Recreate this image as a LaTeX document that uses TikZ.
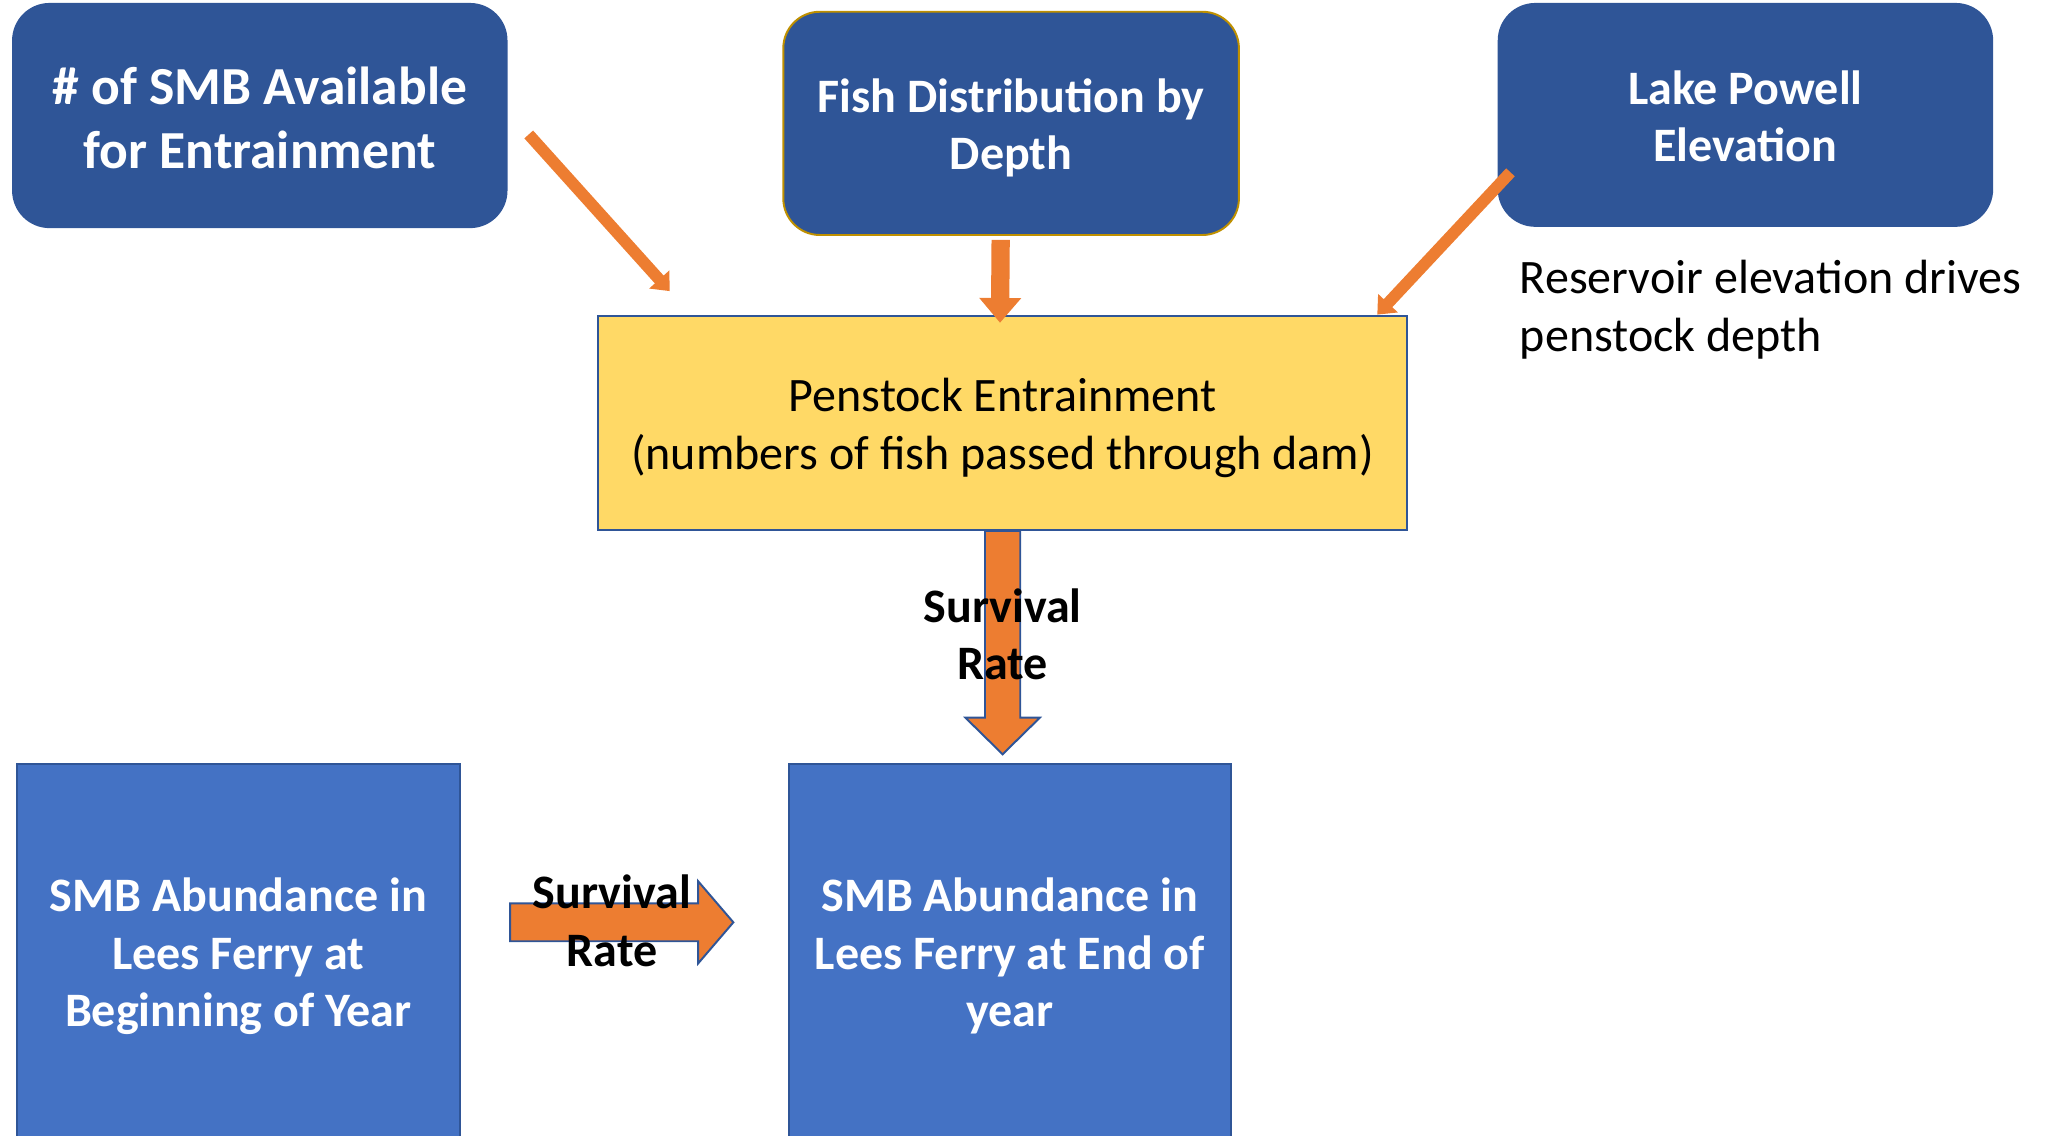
\documentclass[tikz,border=0pt]{standalone}
\usepackage{fontspec}
\setmainfont{Carlito}
\usetikzlibrary{arrows.meta,calc}
\definecolor{darkblue}{HTML}{2F5597}
\definecolor{midblue}{HTML}{4472C4}
\definecolor{goldline}{HTML}{BF9000}
\definecolor{sand}{HTML}{FFD966}
\definecolor{orng}{HTML}{ED7D31}
\begin{document}
\begin{tikzpicture}[x=1pt,y=-1pt,
  topbox/.style={draw=darkblue, fill=darkblue, line width=1.5pt, rounded corners=28pt, inner sep=0pt},
  penbox/.style={draw=darkblue, fill=sand, line width=1.5pt, inner sep=0pt},
  lowbox/.style={draw=darkblue, fill=midblue, line width=1.5pt, inner sep=0pt},
  whitetext/.style={text=white, align=center, inner sep=0pt, font={\fontsize{36.8}{44}\selectfont\bfseries}},
  bigfont/.style={font={\fontsize{41}{49}\selectfont\bfseries}},
  plaintext/.style={inner sep=0pt, font={\fontsize{36.8}{44.5}\selectfont}},
  thinarrow/.style={draw=orng, line width=9pt, -{Triangle[width=20pt,length=12pt]}},
  midarrow/.style={draw=orng, line width=14pt, -{Triangle[width=31pt,length=19pt]}},
  blockarrow/.style={draw=darkblue, fill=orng, line width=1.5pt, line join=miter},
  lbl/.style={align=center, font={\fontsize{36.8}{44}\selectfont\bfseries}, inner sep=0pt, text=black}
]
\useasboundingbox (0,0) rectangle (1568,870);
% top boxes
\node[topbox, minimum width=378pt, minimum height=171pt] (avail) at (199,88.5) {};
\node[whitetext, bigfont] (availtxt) at ($(avail.center)+(0,2)$) {\# of SMB Available\\for Entrainment};
\node[topbox, draw=goldline, minimum width=349pt, minimum height=171pt] (fish) at (774.5,94.5) {};
\node[whitetext] (fishtxt) at ($(fish.center)+(0,3.5)$) {Fish Distribution by\\Depth};
\node[topbox, minimum width=378pt, minimum height=170pt] (lake) at (1337,88) {};
\node[whitetext] (laketxt) at ($(lake.center)+(0,1)$) {Lake Powell\\Elevation};
% penstock box
\node[penbox, minimum width=620pt, minimum height=164pt] (pen) at (768,324) {};
\node[plaintext, align=center] (pentxt) at ($(pen.center)+(0,4)$)
  {Penstock Entrainment\\(numbers of fish passed through dam)};
% note
\node[plaintext, anchor=west, align=left] (note) at (1164,237)
  {Reservoir elevation drives\\penstock depth};
% bottom boxes
\node[lowbox, minimum width=339pt, minimum height=290pt] (begb) at (182.5,730) {};
\node[whitetext] (begtxt) at ($(begb.center)+(0,2.5)$) {SMB Abundance in\\Lees Ferry at\\Beginning of Year};
\node[lowbox, minimum width=339pt, minimum height=290pt] (endb) at (773.5,730) {};
\node[whitetext] (endtxt) at ($(endb.center)+(0,2.5)$) {SMB Abundance in\\Lees Ferry at End of\\year};
% thin arrows
\coordinate (a1s) at (405,103);
\coordinate (a1e) at (513,223);
\coordinate (a3s) at (1157,132);
\coordinate (a3e) at (1055,241);
\draw[thinarrow] (a1s) -- (a1e);
\draw[thinarrow] (a3s) -- (a3e);
\draw[midarrow] ($(fish.south)+(-8,3)$) -- ($(pen.north)+(-2,6)$);
% vertical survival arrow
\draw[blockarrow] ($(pen.south)+(-13.5,0)$) -- ++(0,143) -- ++(-15,0) -- ($(pen.south)+(0,171)$)
  -- ++(28.5,-28) -- ++(-15,0) -- ($(pen.south)+(13.5,0)$) -- cycle;
\node[lbl] (s1) at ($(pen.south)+(0,79)$) {Survival\\Rate};
% horizontal survival arrow
\coordinate (hs) at ($(begb.east)+(38,-23.5)$);
\draw[blockarrow] ($(hs)+(0,-14.5)$) -- ++(144,0) -- ++(0,-17) -- ($(hs)+(171,0)$)
  -- ++(-27,31.5) -- ++(0,-17) -- ($(hs)+(0,14.5)$) -- cycle;
\node[lbl] (s2) at ($(hs)+(78,-1)$) {Survival\\Rate};
\end{tikzpicture}
\end{document}
